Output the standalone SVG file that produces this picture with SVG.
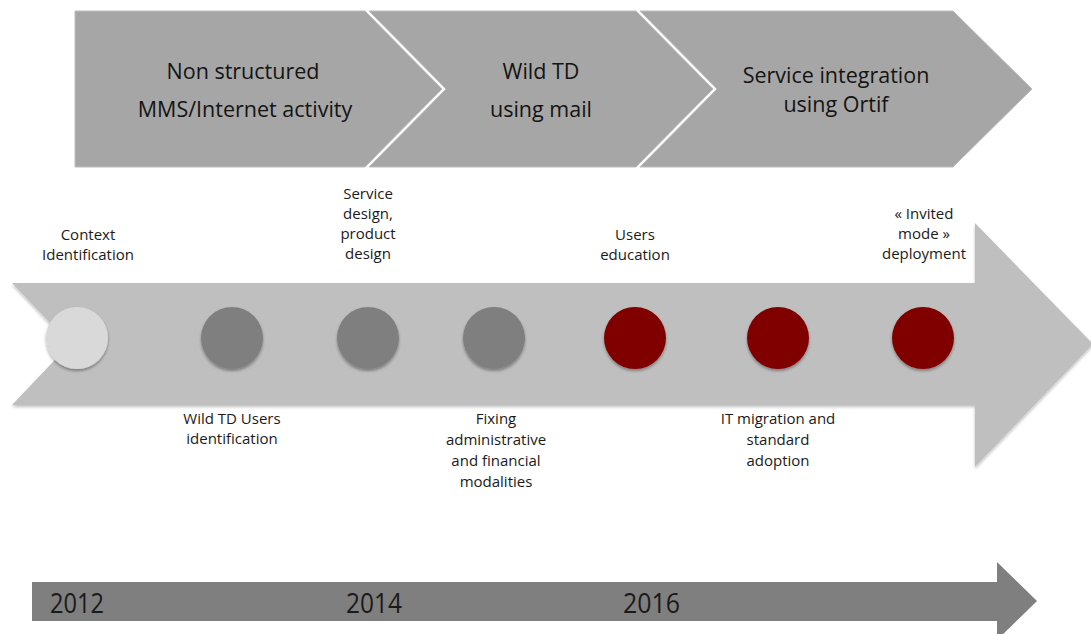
<svg xmlns="http://www.w3.org/2000/svg" width="1091" height="634" viewBox="0 0 1091 634">
<defs>
<filter id="sh" x="-20%" y="-20%" width="140%" height="150%">
<feDropShadow dx="0" dy="2" stdDeviation="1.6" flood-color="#000" flood-opacity="0.35"/>
</filter>
<filter id="sh2" x="-5%" y="-10%" width="110%" height="125%">
<feDropShadow dx="0" dy="2" stdDeviation="1.5" flood-color="#000" flood-opacity="0.25"/>
</filter>
<style>
.chev{fill:#a6a6a6;stroke:#bdbdbd;stroke-width:1}
.ht{font-family:"Open Sans","Liberation Sans",sans-serif;font-size:21.5px;fill:#141414;text-anchor:middle}
.lb{font-family:"Open Sans","Liberation Sans",sans-serif;font-size:15px;fill:#1a1a1a;text-anchor:middle}
.yr{font-family:"Open Sans","Liberation Sans",sans-serif;font-size:28px;fill:#1a1a1a}
.c0{fill:#d9d9d9}
.c1{fill:#7f7f7f}
.c2{fill:#800000}
</style>
</defs>
<rect width="1091" height="634" fill="#ffffff"/>

<g id="phases">
<g id="phase1">
<polygon class="chev" points="75,11 365,11 442,89 365,167 75,167"/>
<text class="ht" x="243" y="79">Non structured</text>
<text class="ht" x="245" y="117">MMS/Internet activity</text>
</g>
<g id="phase2">
<polygon class="chev" points="369,11 636,11 713,89 636,167 369,167 446,89"/>
<text class="ht" x="541" y="79">Wild TD</text>
<text class="ht" x="541" y="117">using mail</text>
</g>
<g id="phase3">
<polygon class="chev" points="640,11 953,11 1032,89 953,167 640,167 717,89"/>
<text class="ht" x="836" y="83">Service integration</text>
<text class="ht" x="836" y="112">using Ortif</text>
</g>
</g>

<g id="connectors">
<g id="timeline-arrow">
<polygon fill="#bfbfbf" filter="url(#sh2)" points="12,283 975,283 975,223 1093,344 975,467 975,405 12,405 70,344"/>
</g>
<g id="year-arrow">
<polygon fill="#7f7f7f" points="32,582 997,582 997,562 1037,601 997,640 997,621 32,621"/>
</g>
</g>

<g id="m1"><circle class="c0" cx="77" cy="338" r="31" filter="url(#sh)"/>
<text class="lb" x="88" y="240">Context</text><text class="lb" x="88" y="260">Identification</text></g>
<g id="m2"><circle class="c1" cx="232" cy="338" r="31" filter="url(#sh)"/>
<text class="lb" x="232" y="424">Wild TD Users</text><text class="lb" x="232" y="444">identification</text></g>
<g id="m3"><circle class="c1" cx="368" cy="338" r="31" filter="url(#sh)"/>
<text class="lb" x="368" y="199">Service</text><text class="lb" x="368" y="219">design,</text><text class="lb" x="368" y="239">product</text><text class="lb" x="368" y="259">design</text></g>
<g id="m4"><circle class="c1" cx="494" cy="338" r="31" filter="url(#sh)"/>
<text class="lb" x="496" y="424">Fixing</text><text class="lb" x="496" y="445">administrative</text><text class="lb" x="496" y="466">and financial</text><text class="lb" x="496" y="487">modalities</text></g>
<g id="m5"><circle class="c2" cx="635" cy="338" r="31" filter="url(#sh)"/>
<text class="lb" x="635" y="240">Users</text><text class="lb" x="635" y="260">education</text></g>
<g id="m6"><circle class="c2" cx="778" cy="338" r="31" filter="url(#sh)"/>
<text class="lb" x="778" y="424">IT migration and</text><text class="lb" x="778" y="445">standard</text><text class="lb" x="778" y="466">adoption</text></g>
<g id="m7"><circle class="c2" cx="923" cy="338" r="31" filter="url(#sh)"/>
<text class="lb" x="924" y="219">« Invited</text><text class="lb" x="924" y="239">mode »</text><text class="lb" x="924" y="259">deployment</text></g>

<g id="years">
<text class="yr" x="50" y="613" textLength="54" lengthAdjust="spacingAndGlyphs">2012</text>
<text class="yr" x="346" y="613" textLength="56" lengthAdjust="spacingAndGlyphs">2014</text>
<text class="yr" x="623" y="613" textLength="57" lengthAdjust="spacingAndGlyphs">2016</text>
</g>
</svg>
